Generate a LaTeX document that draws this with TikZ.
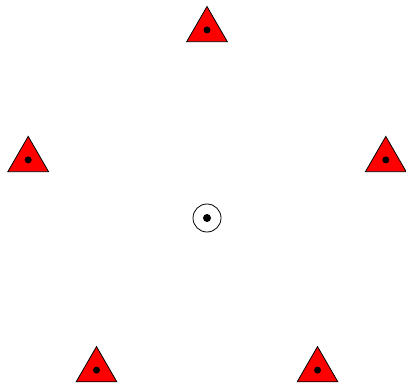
\documentclass[tikz,border=0pt]{standalone}
\usetikzlibrary{calc,shapes.geometric}

\begin{document}
\begin{tikzpicture}[x=1pt, y=1pt, line width=0.8pt,
    source/.style={regular polygon, regular polygon sides=3, draw=black, fill=red,
                   minimum size=47, inner sep=0pt},
    observer/.style={circle, draw=black, minimum size=28, inner sep=0pt}]
    		% Frame of the reference, 406 x 383
    		\useasboundingbox (0,0) rectangle (406,383);
    		\coordinate (Centre) at (207,165);
    		
    		% Observer in the middle
    		\node[observer] (Obs) at (Centre) {};
    		\fill (Obs.center) circle (4);
    		
    		% Five sources on a pentagon, radius R = 188
    		\foreach \ang [count=\i] in {90,162,234,306,18} {
    			\node[source] (Src\i) at ($(Centre)+(\ang:188)$) {};
    			\fill (Src\i.center) circle (3.5);
    		}
\end{tikzpicture}
\end{document}
